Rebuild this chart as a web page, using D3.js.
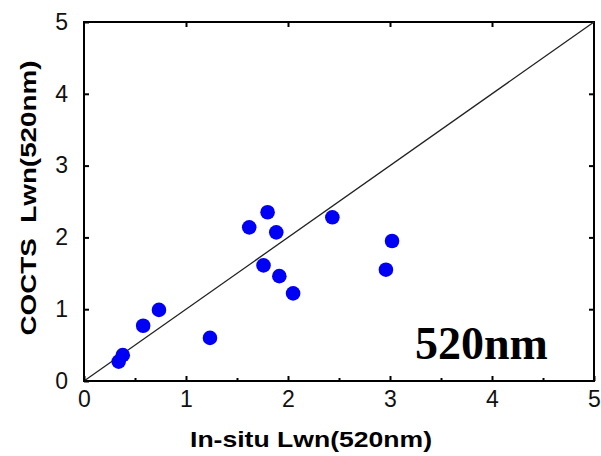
<!DOCTYPE html>
<html>
<head>
<meta charset="utf-8">
<script src="https://cdn.jsdelivr.net/npm/d3@7"></script>
<style>
  body { margin: 0; background: #fff; }
  svg { display: block; }
</style>
</head>
<body>
<div id="chart"></div>
<script>
// In-situ vs COCTS water-leaving radiance at 520nm
const insitu = [0.34, 0.38, 0.58, 0.735, 1.235, 1.62, 1.80, 1.885, 2.435, 3.02, 1.76, 1.915, 2.05, 2.96];
const cocts  = [0.27, 0.36, 0.77, 0.99, 0.60, 2.14, 2.35, 2.07, 2.28, 1.95, 1.61, 1.46, 1.22, 1.55];
const majorTicks = [0, 1, 2, 3, 4, 5];
const minorTicks = [0.5, 1.5, 2.5, 3.5, 4.5];

const width = 601, height = 456;
const margin = {top: 22, right: 6, bottom: 75, left: 84};

const svg = d3.select("#chart").append("svg")
    .attr("width", width)
    .attr("height", height);

const x = d3.scaleLinear().domain([0, 5]).range([margin.left, width - margin.right - 1]);
const y = d3.scaleLinear().domain([0, 5]).range([height - margin.bottom, margin.top]);

// frame
svg.append("rect")
    .attr("x", x(0)).attr("y", y(5))
    .attr("width", x(5) - x(0)).attr("height", y(0) - y(5))
    .attr("fill", "none").attr("stroke", "#000").attr("stroke-width", 2);

// 1:1 line
svg.append("line")
    .attr("x1", x(0)).attr("y1", y(0))
    .attr("x2", x(5)).attr("y2", y(5))
    .attr("stroke", "#222").attr("stroke-width", 1.3);

function styleAxis(g) {
    g.select(".domain").remove();
    g.selectAll(".tick line").attr("stroke", "#000").attr("stroke-width", 2);
    g.selectAll(".tick text")
        .attr("fill", "#111")
        .style("font-family", "Liberation Sans, Arial, sans-serif")
        .style("font-size", "23px");
}

// bottom axis, ticks inside
svg.append("g")
    .attr("transform", `translate(0,${y(0)})`)
    .call(d3.axisBottom(x).tickValues(majorTicks).tickFormat(d3.format("d")).tickSize(-5).tickPadding(10))
    .call(styleAxis);
svg.append("g")
    .attr("transform", `translate(0,${y(0)})`)
    .call(d3.axisBottom(x).tickValues(minorTicks).tickFormat("").tickSize(-3))
    .call(styleAxis);

// left axis
svg.append("g")
    .attr("transform", `translate(${x(0)},0)`)
    .call(d3.axisLeft(y).tickValues(majorTicks).tickFormat(d3.format("d")).tickSize(-5).tickPadding(16))
    .call(styleAxis);

// top and right ticks only
svg.append("g")
    .attr("transform", `translate(0,${y(5)})`)
    .call(d3.axisTop(x).tickValues([1, 2, 3, 4]).tickFormat("").tickSize(-5))
    .call(styleAxis);
svg.append("g")
    .attr("transform", `translate(${x(5)},0)`)
    .call(d3.axisRight(y).tickValues([1, 2, 3, 4]).tickFormat("").tickSize(-5))
    .call(styleAxis);

// points
svg.append("g").selectAll("circle")
    .data(insitu.map((d, i) => [d, cocts[i]]))
    .join("circle")
    .attr("cx", d => x(d[0]))
    .attr("cy", d => y(d[1]))
    .attr("r", 7.3)
    .attr("fill", "#0000f5");

// axis titles
svg.append("text")
    .attr("x", 311).attr("y", 447)
    .attr("text-anchor", "middle")
    .attr("textLength", 242)
    .attr("lengthAdjust", "spacingAndGlyphs")
    .style("font-family", "Liberation Sans, Arial, sans-serif")
    .style("font-weight", "bold")
    .style("font-size", "22px")
    .text("In-situ Lwn(520nm)");

svg.append("text")
    .attr("transform", "translate(36,198) rotate(-90)")
    .attr("text-anchor", "middle")
    .attr("textLength", 275)
    .attr("lengthAdjust", "spacingAndGlyphs")
    .style("font-family", "Liberation Sans, Arial, sans-serif")
    .style("font-weight", "bold")
    .style("font-size", "22px")
    .text("COCTS\u00a0\u00a0Lwn(520nm)");

// wavelength label
svg.append("text")
    .attr("x", 415).attr("y", 359)
    .style("font-family", "Liberation Serif, Times New Roman, serif")
    .style("font-weight", "bold")
    .style("font-size", "46px")
    .text("520nm");
</script>
</body>
</html>
